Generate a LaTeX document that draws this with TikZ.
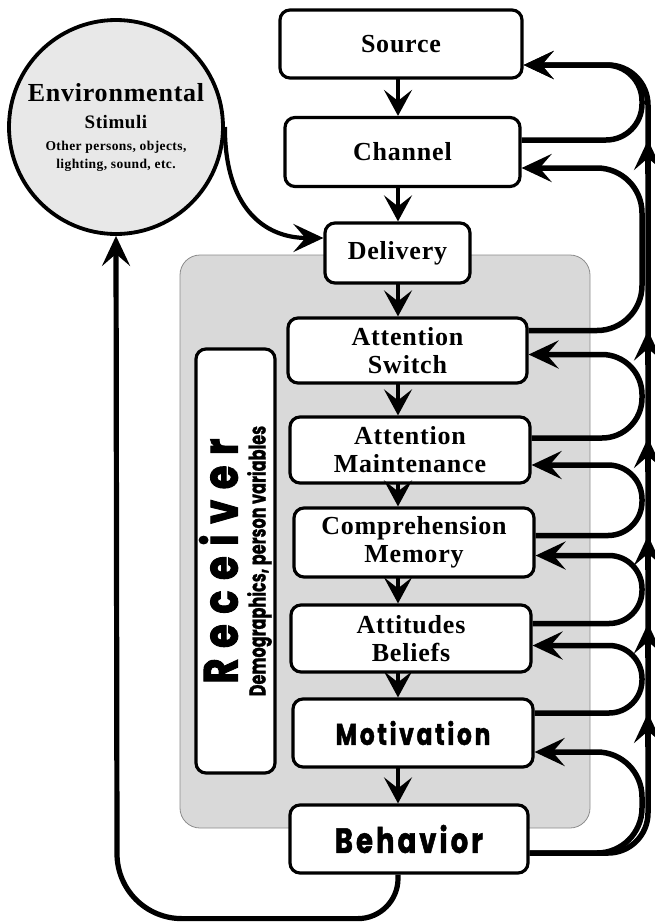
\documentclass[tikz,border=0pt]{standalone}
\usepackage{fontspec}
\setmainfont{Liberation Serif}[LetterSpace=3]
\newfontfamily\heavyfont{Poppins}[FakeStretch=0.78,FakeBold=1.5,LetterSpace=9]
\newfontfamily\heavycond{Poppins}[FakeStretch=0.7,FakeBold=1]
\newfontfamily\heavywide{Poppins}[FakeStretch=0.8,FakeBold=2,LetterSpace=22]
\usetikzlibrary{arrows.meta}

\tikzset{
  stage/.style={draw, line width=3.2pt, rounded corners=10pt, fill=white, align=center,
    inner sep=0pt, font=\fontsize{26}{28}\selectfont\bfseries},
  area/.style={draw=black!45, line width=0.8pt, fill=gray!30, rounded corners=20pt,
    minimum width=410pt, minimum height=573pt},
  envcircle/.style={circle, draw, line width=3.8pt, fill=gray!18, minimum size=214pt,
    align=center, inner sep=0pt, font=\fontsize{13.5}{18}\selectfont\bfseries},
  flow/.style={line width=3.6pt, line cap=round, -{Stealth[length=26pt,width=28pt,inset=11pt]}},
  fb/.style={line width=5.5pt, -{Stealth[length=30pt,width=28pt,inset=12pt]}},
}

\begin{document}
\begin{tikzpicture}[x=1pt,y=-1pt]
\useasboundingbox (0,0) rectangle (655,922);

% receiver area
\node[area] (rcvarea) at (385,541.5) {};

% environmental stimuli
\node[envcircle] (env) at (116,127) {%
  {\fontsize{26}{18}\selectfont Environmental}\\[9pt]
  {\fontsize{19}{18}\selectfont Stimuli}\\[4pt]
  Other persons, objects,\\
  lighting, sound, etc.};

% stages
\node[stage, minimum width=242pt, minimum height=68pt] (src) at (401,44) {Source};
\node[stage, minimum width=235pt, minimum height=69pt] (chn) at (402.5,152) {Channel};
\node[stage, minimum width=145pt, minimum height=60pt] (dlv) at (397.5,253) {Delivery};
\node[stage, minimum width=239pt, minimum height=65pt] (asw) at (407.5,350.5) {Attention\\Switch};
\node[stage, minimum width=240pt, minimum height=66pt] (amt) at (410,450) {Attention\\Maintenance};
\node[stage, minimum width=240pt, minimum height=69pt] (cmp) at (414,542.5) {Comprehension\\Memory};
\node[stage, minimum width=240pt, minimum height=67pt] (att) at (411,638.5) {Attitudes\\Beliefs};
\node[stage, minimum width=240pt, minimum height=68pt] (mot) at (413,733)
  {\heavyfont\fontsize{30}{30}\selectfont Motivation};
\node[stage, minimum width=238pt, minimum height=68pt] (beh) at (409,839)
  {\heavyfont\fontsize{35}{35}\selectfont Behavior};

% receiver label
\node[stage, rotate=90, minimum width=424pt, minimum height=79pt] (rcv) at (235.5,561)
  {{\heavywide\fontsize{48}{42}\selectfont Receiver}\\
   {\heavycond\fontsize{23}{22}\selectfont Demographics, person variables}};

% main chain
\coordinate (ax) at (398,0);
\foreach \a/\b in {src/chn, chn/dlv, dlv/asw, asw/amt, amt/cmp, cmp/att, att/mot, mot/beh}
  \draw[flow] (\a.south -| ax) -- (\b.north -| ax);

% environment feeds delivery, behavior feeds environment
\coordinate (dlvin) at ([yshift=15pt]dlv.west);
\draw[line width=4.2pt, -{Stealth[length=30pt,width=28pt,inset=12pt]}]
  (env.east) .. controls +(0,80) and +(-60,0) .. (dlvin);
\draw[line width=5.2pt, -{Stealth[length=30pt,width=28pt,inset=12pt]}]
  (beh.south -| ax) -- ++(0,4) .. controls +(0,22) and +(22,0) .. ++(-40,40)
  -- ++(-176,0) .. controls +(-36,0) and +(0,36) .. ++(-65,-65) -- (env.south);

% feedback ports
\coordinate (srcin) at ([yshift=-21pt]src.east);
\coordinate (chnout) at ([yshift=12pt]chn.east);
\coordinate (chnin) at ([yshift=-16pt]chn.east);
\coordinate (aswout) at ([yshift=20pt]asw.east);
\coordinate (aswin) at ([yshift=-4pt]asw.east);
\coordinate (amtout) at ([yshift=12pt]amt.east);
\coordinate (amtin) at ([yshift=-15pt]amt.east);
\coordinate (cmpout) at ([yshift=7pt]cmp.east);
\coordinate (cmpin) at ([yshift=-13pt]cmp.east);
\coordinate (attout) at ([yshift=15pt]att.east);
\coordinate (attin) at ([yshift=-7pt]att.east);
\coordinate (motout) at ([yshift=20pt]mot.east);
\coordinate (motin) at ([yshift=-19pt]mot.east);
\coordinate (behout) at ([yshift=-14pt]beh.east);
\coordinate (rail) at (642,0);
\coordinate (trk) at (648,0);

% feedback loops
\draw[fb, rounded corners=36pt] (chnout) -| (rail |- srcin) -- (srcin);
\draw[fb, rounded corners=45pt] (aswout) -| (rail |- chnin) -- (chnin);
\draw[fb, rounded corners=40pt] (amtout) -| (rail |- aswin) -- (aswin);
\draw[fb, rounded corners=34pt] (cmpout) -| (rail |- amtin) -- (amtin);
\draw[fb, rounded corners=33pt] (attout) -| (rail |- cmpin) -- (cmpin);
\draw[fb, rounded corners=33pt] (motout) -| (rail |- attin) -- (attin);
\draw[fb, rounded corners=45pt] (behout) -| (rail |- motin) -- (motin);

% trunk
\draw[fb, rounded corners=40pt] (behout) -| (trk |- srcin) -- (srcin);
\foreach \p in {chnout, aswout, amtout, cmpout, attout, motout}
  \draw[fb] (trk |- \p) ++(0,34) -- ++(0,-34);
\end{tikzpicture}
\end{document}
